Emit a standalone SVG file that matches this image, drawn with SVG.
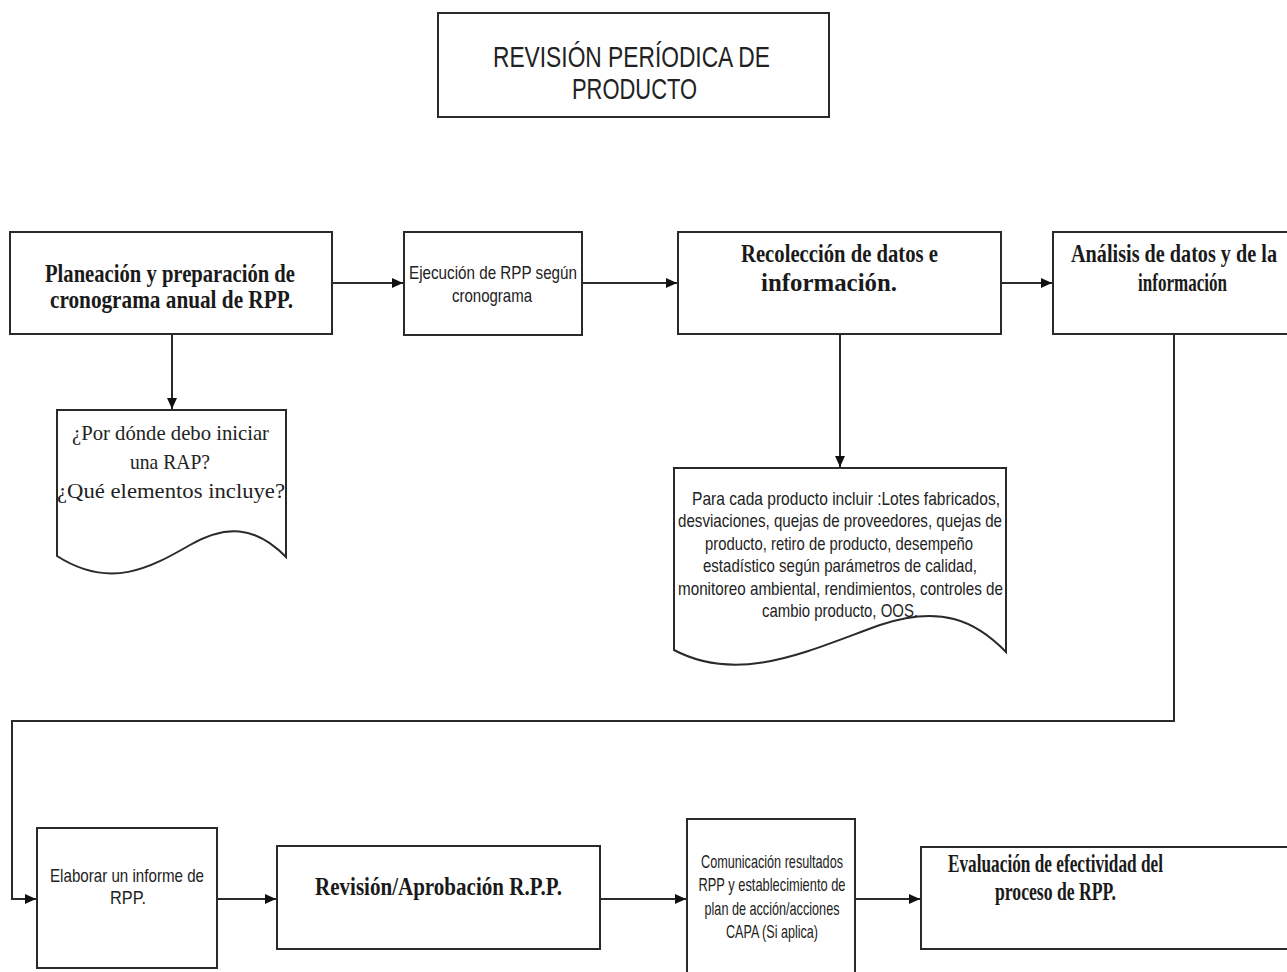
<svg xmlns="http://www.w3.org/2000/svg" width="1287" height="972" viewBox="0 0 1287 972">
<style>
.box{fill:#fff;stroke:#2a2a2a;stroke-width:2}
.con{fill:none;stroke:#2a2a2a;stroke-width:2}
.s{font-family:"Liberation Sans",Arial,sans-serif;fill:#222;text-anchor:middle}
.b{font-family:"Liberation Serif","Times New Roman",serif;font-weight:bold;fill:#1a1a1a;text-anchor:middle}
.r{font-family:"Liberation Serif","Times New Roman",serif;fill:#222;text-anchor:middle}
</style>
<defs>
<marker id="ah" markerUnits="userSpaceOnUse" markerWidth="11" markerHeight="10" refX="11" refY="5" orient="auto">
<path d="M0,0 L11,5 L0,10 z" fill="#111"/>
</marker>
</defs>
<rect width="1287" height="972" fill="#fff"/>
<g id="connectors">
<path class="con" d="M332,283 H403" marker-end="url(#ah)"/>
<path class="con" d="M582,283 H677" marker-end="url(#ah)"/>
<path class="con" d="M1001,283 H1052" marker-end="url(#ah)"/>
<path class="con" d="M172,334 V409" marker-end="url(#ah)"/>
<path class="con" d="M840,334 V467" marker-end="url(#ah)"/>
<path class="con" d="M1174,334 V721 H12 V899 H36" marker-end="url(#ah)"/>
<path class="con" d="M217,899 H276" marker-end="url(#ah)"/>
<path class="con" d="M600,899 H686" marker-end="url(#ah)"/>
<path class="con" d="M855,899 H920" marker-end="url(#ah)"/>
</g>
<g id="title">
<rect class="box" x="438" y="13" width="391" height="104"/>
<text class="s" x="631.5" y="67" font-size="29" textLength="277" lengthAdjust="spacingAndGlyphs">REVISIÓN PERÍODICA DE</text>
<text class="s" x="634.5" y="99" font-size="29" textLength="125" lengthAdjust="spacingAndGlyphs">PRODUCTO</text>
</g>
<g id="n1">
<rect class="box" x="10" y="232" width="322" height="102"/>
<text class="b" x="170" y="282" font-size="25" textLength="250" lengthAdjust="spacingAndGlyphs">Planeación y preparación de</text>
<text class="b" x="171.5" y="308" font-size="25" textLength="243" lengthAdjust="spacingAndGlyphs">cronograma anual de RPP.</text>
</g>
<g id="n2">
<rect class="box" x="404" y="232" width="178" height="103"/>
<text class="s" x="493" y="279" font-size="19" textLength="168" lengthAdjust="spacingAndGlyphs">Ejecución de RPP según</text>
<text class="s" x="492" y="302" font-size="19" textLength="80" lengthAdjust="spacingAndGlyphs">cronograma</text>
</g>
<g id="n3">
<rect class="box" x="678" y="232" width="323" height="102"/>
<text class="b" x="839.5" y="262" font-size="25" textLength="197" lengthAdjust="spacingAndGlyphs">Recolección de datos e</text>
<text class="b" x="829" y="291" font-size="25" textLength="136" lengthAdjust="spacingAndGlyphs">información.</text>
</g>
<g id="n4">
<rect class="box" x="1053" y="232" width="300" height="102"/>
<text class="b" x="1174" y="262" font-size="25" textLength="206" lengthAdjust="spacingAndGlyphs">Análisis de datos y de la</text>
<text class="b" x="1182.5" y="291" font-size="25" textLength="89" lengthAdjust="spacingAndGlyphs">información</text>
</g>
<g id="doc1">
<path class="box" d="M57,410 H286 V557 C255,525 225,525 190,545 C150,568 110,590 57,556 Z"/>
<text class="r" x="170.5" y="440" font-size="21" textLength="197" lengthAdjust="spacingAndGlyphs">¿Por dónde debo iniciar</text>
<text class="r" x="170" y="469" font-size="21" textLength="80" lengthAdjust="spacingAndGlyphs">una RAP?</text>
<text class="r" x="171" y="498" font-size="21" textLength="228" lengthAdjust="spacingAndGlyphs">¿Qué elementos incluye?</text>
</g>
<g id="doc2">
<path class="box" d="M674,468 H1006 V652 C975,620 940,605 880,625 C810,650 740,685 674,650 Z"/>
<text class="s" x="846" y="505" font-size="19" textLength="308" lengthAdjust="spacingAndGlyphs">Para cada producto incluir :Lotes fabricados,</text>
<text class="s" x="840" y="527" font-size="19" textLength="324" lengthAdjust="spacingAndGlyphs">desviaciones, quejas de proveedores, quejas de</text>
<text class="s" x="839" y="550" font-size="19" textLength="268" lengthAdjust="spacingAndGlyphs">producto, retiro de producto, desempeño</text>
<text class="s" x="840" y="572" font-size="19" textLength="274" lengthAdjust="spacingAndGlyphs">estadístico según parámetros de calidad,</text>
<text class="s" x="840.5" y="595" font-size="19" textLength="325" lengthAdjust="spacingAndGlyphs">monitoreo ambiental, rendimientos, controles de</text>
<text class="s" x="840" y="617" font-size="19" textLength="156" lengthAdjust="spacingAndGlyphs">cambio producto, OOS.</text>
</g>
<g id="n5">
<rect class="box" x="37" y="828" width="180" height="140"/>
<text class="s" x="127" y="882" font-size="19" textLength="154" lengthAdjust="spacingAndGlyphs">Elaborar un informe de</text>
<text class="s" x="128" y="904" font-size="19" textLength="36" lengthAdjust="spacingAndGlyphs">RPP.</text>
</g>
<g id="n6">
<rect class="box" x="277" y="846" width="323" height="103"/>
<text class="b" x="438.5" y="895" font-size="26" textLength="247" lengthAdjust="spacingAndGlyphs">Revisión/Aprobación R.P.P.</text>
</g>
<g id="n7">
<rect class="box" x="687" y="819" width="168" height="170"/>
<text class="s" x="772" y="868" font-size="19" textLength="142" lengthAdjust="spacingAndGlyphs">Comunicación resultados</text>
<text class="s" x="772" y="891" font-size="19" textLength="147" lengthAdjust="spacingAndGlyphs">RPP y establecimiento de</text>
<text class="s" x="772" y="915" font-size="19" textLength="135" lengthAdjust="spacingAndGlyphs">plan de acción/acciones</text>
<text class="s" x="772" y="938" font-size="19" textLength="92" lengthAdjust="spacingAndGlyphs">CAPA (Si aplica)</text>
</g>
<g id="n8">
<rect class="box" x="921" y="847" width="400" height="102"/>
<text class="b" x="1055.5" y="872" font-size="26" textLength="215" lengthAdjust="spacingAndGlyphs">Evaluación de efectividad del</text>
<text class="b" x="1055.5" y="900" font-size="26" textLength="121" lengthAdjust="spacingAndGlyphs">proceso de RPP.</text>
</g>
</svg>
